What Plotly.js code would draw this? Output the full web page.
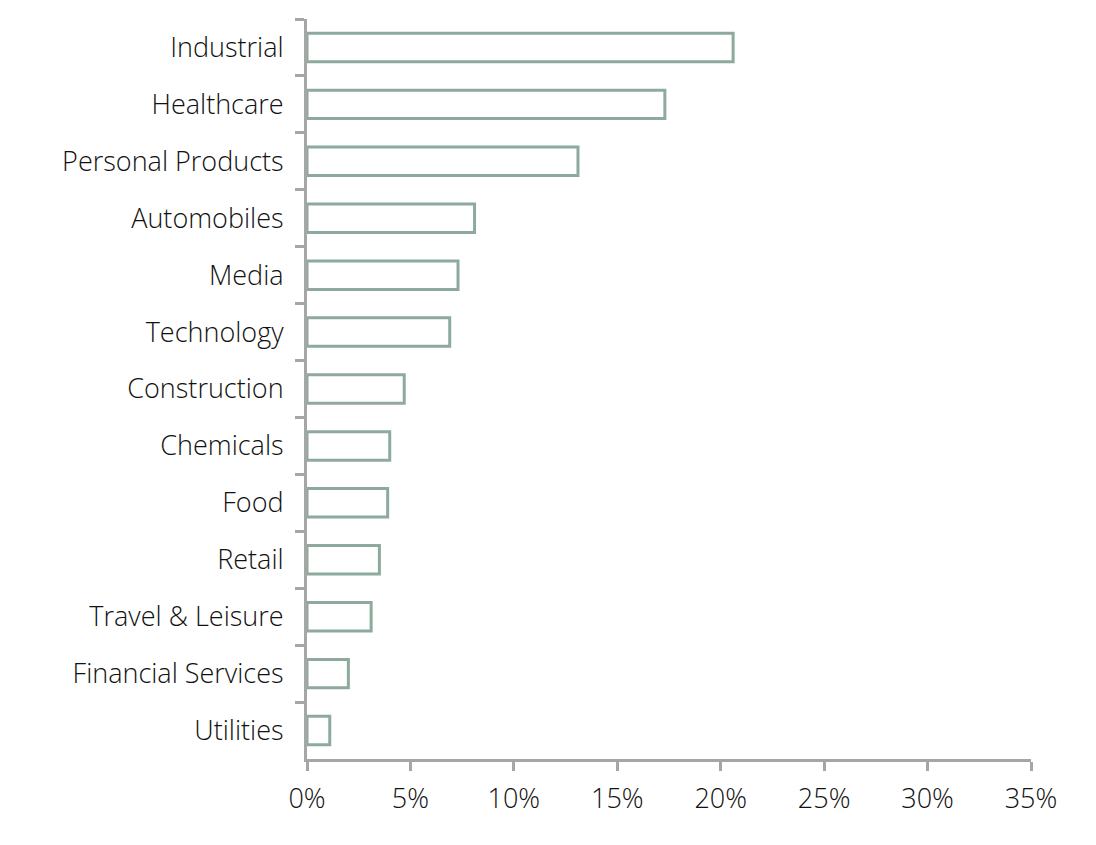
<!DOCTYPE html>
<html>
<head>
<meta charset="utf-8">
<script src="https://cdn.plot.ly/plotly-3.0.1.min.js"></script>
<style>html,body{margin:0;padding:0;background:#fff;}#chart{width:1096px;height:845px;}</style>
</head>
<body>
<div id="chart"></div>
<script>
const categories = ["Industrial","Healthcare","Personal Products","Automobiles","Media","Technology","Construction","Chemicals","Food","Retail","Travel & Leisure","Financial Services","Utilities"];
const shares = [20.6, 17.3, 13.1, 8.1, 7.3, 6.9, 4.7, 4.0, 3.9, 3.5, 3.1, 2.0, 1.1];
const xTickVals = [0,5,10,15,20,25,30,35];
const xTickText = ["0%","5%","10%","15%","20%","25%","30%","35%"];

const fontFamily = "'Open Sans', 'Liberation Sans', Arial, sans-serif";
const tf = {family: fontFamily, size: 27, color: "#111111", weight: 300};
const trace = {
  type: "bar",
  orientation: "h",
  y: categories,
  x: shares,
  width: 0.5,
  marker: {color: "#ffffff", line: {color: "#8eaa9d", width: 3}},
  hoverinfo: "x+y"
};
const layout = {
  width: 1096, height: 845,
  margin: {l: 307, r: 65, t: 19, b: 86},
  paper_bgcolor: "#fff", plot_bgcolor: "#fff",
  showlegend: false,
  font: tf,
  bargap: 0.5,
  xaxis: {
    range: [0, 35], tickvals: xTickVals, ticktext: xTickText,
    showgrid: false, zeroline: false,
    showline: true, linecolor: "#a6a6a6", linewidth: 3,
    ticks: "outside", ticklen: 9, tickwidth: 3, tickcolor: "#a6a6a6",
    ticklabelstandoff: 5,
    tickfont: tf,
    fixedrange: true
  },
  yaxis: {
    type: "category", autorange: "reversed",
    showgrid: false, zeroline: false,
    showline: true, linecolor: "#a6a6a6", linewidth: 3,
    ticks: "outside", tickson: "boundaries", ticklen: 9, tickwidth: 3, tickcolor: "#a6a6a6",
    ticklabelstandoff: 15,
    tickfont: tf,
    fixedrange: true
  }
};
Plotly.newPlot("chart", [trace], layout, {displayModeBar: false, staticPlot: true});
</script>
</body>
</html>
